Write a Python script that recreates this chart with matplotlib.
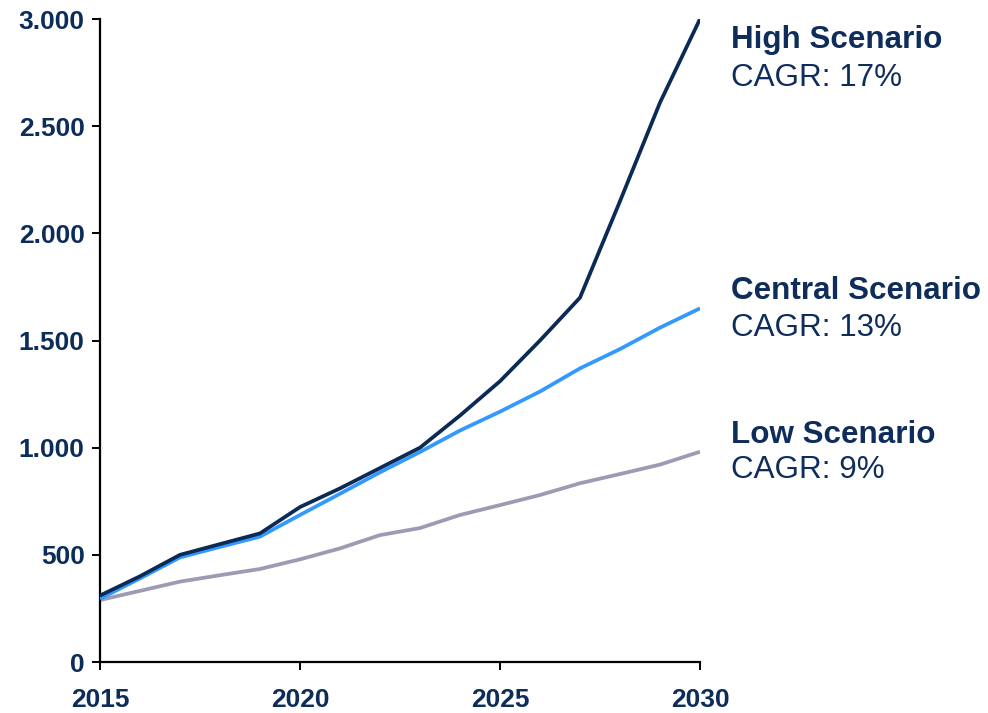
import matplotlib
matplotlib.use("Agg")
import matplotlib.pyplot as plt
from matplotlib.ticker import FuncFormatter

plt.rcParams['font.family'] = ['Liberation Sans', 'DejaVu Sans']

years = list(range(2015, 2031))
high = [310, 400, 500, 550, 600, 723, 810, 905, 1000, 1150, 1310, 1500, 1700, 2150, 2610, 3000]
central = [295, 390, 488, 537, 585, 686, 785, 885, 980, 1080, 1168, 1262, 1370, 1460, 1560, 1650]
low = [289, 332, 375, 405, 434, 479, 530, 592, 625, 686, 732, 779, 834, 877, 921, 981]

scenario_names = ["High Scenario", "Central Scenario", "Low Scenario"]
cagr_labels = ["CAGR: 17%", "CAGR: 13%", "CAGR: 9%"]
x_ticks = [2015, 2020, 2025, 2030]
y_ticks = [0, 500, 1000, 1500, 2000, 2500, 3000]

navy = "#0c2c5a"
text_col = "#0f2d5a"
c_high = "#0b2a55"
c_central = "#3399ff"
c_low = "#9b9bb3"

fig = plt.figure(figsize=(9.88, 7.13), dpi=100)
ax = fig.add_axes([100 / 988, 1 - 662 / 713, 600 / 988, (662 - 19) / 713])

ax.plot(years, low, color=c_low, lw=2.7, solid_capstyle="butt", zorder=2)
ax.plot(years, central, color=c_central, lw=2.7, solid_capstyle="butt", zorder=3)
ax.plot(years, high, color=c_high, lw=2.7, solid_capstyle="butt", zorder=4)

ax.set_xlim(2015, 2030)
ax.set_ylim(0, 3000)
ax.set_xticks(x_ticks)
ax.set_yticks(y_ticks)
ax.yaxis.set_major_formatter(FuncFormatter(lambda v, p: f"{int(v):,}".replace(",", ".")))

for s in ("top", "right"):
    ax.spines[s].set_visible(False)
for s in ("left", "bottom"):
    ax.spines[s].set_linewidth(1.6)
    ax.spines[s].set_color("black")

ax.tick_params(axis="y", length=6, width=1.4, pad=5, labelsize=19, labelcolor=navy)
ax.tick_params(axis="x", length=6, width=1.4, pad=13, labelsize=19, labelcolor=navy)
for lab in ax.get_xticklabels() + ax.get_yticklabels():
    lab.set_fontweight("bold")

# scenario annotations on the right
title_y = [40, 291, 435]
cagr_y = [78, 328, 470]
for name, cagr, ty, cy in zip(scenario_names, cagr_labels, title_y, cagr_y):
    fig.text(731 / 988, 1 - ty / 713, name, fontsize=22.6, fontweight="bold",
             color=text_col, ha="left", va="center")
    fig.text(731 / 988, 1 - cy / 713, cagr, fontsize=22.6,
             color=text_col, ha="left", va="center")

fig.savefig("out.png", dpi=100, facecolor="white")
